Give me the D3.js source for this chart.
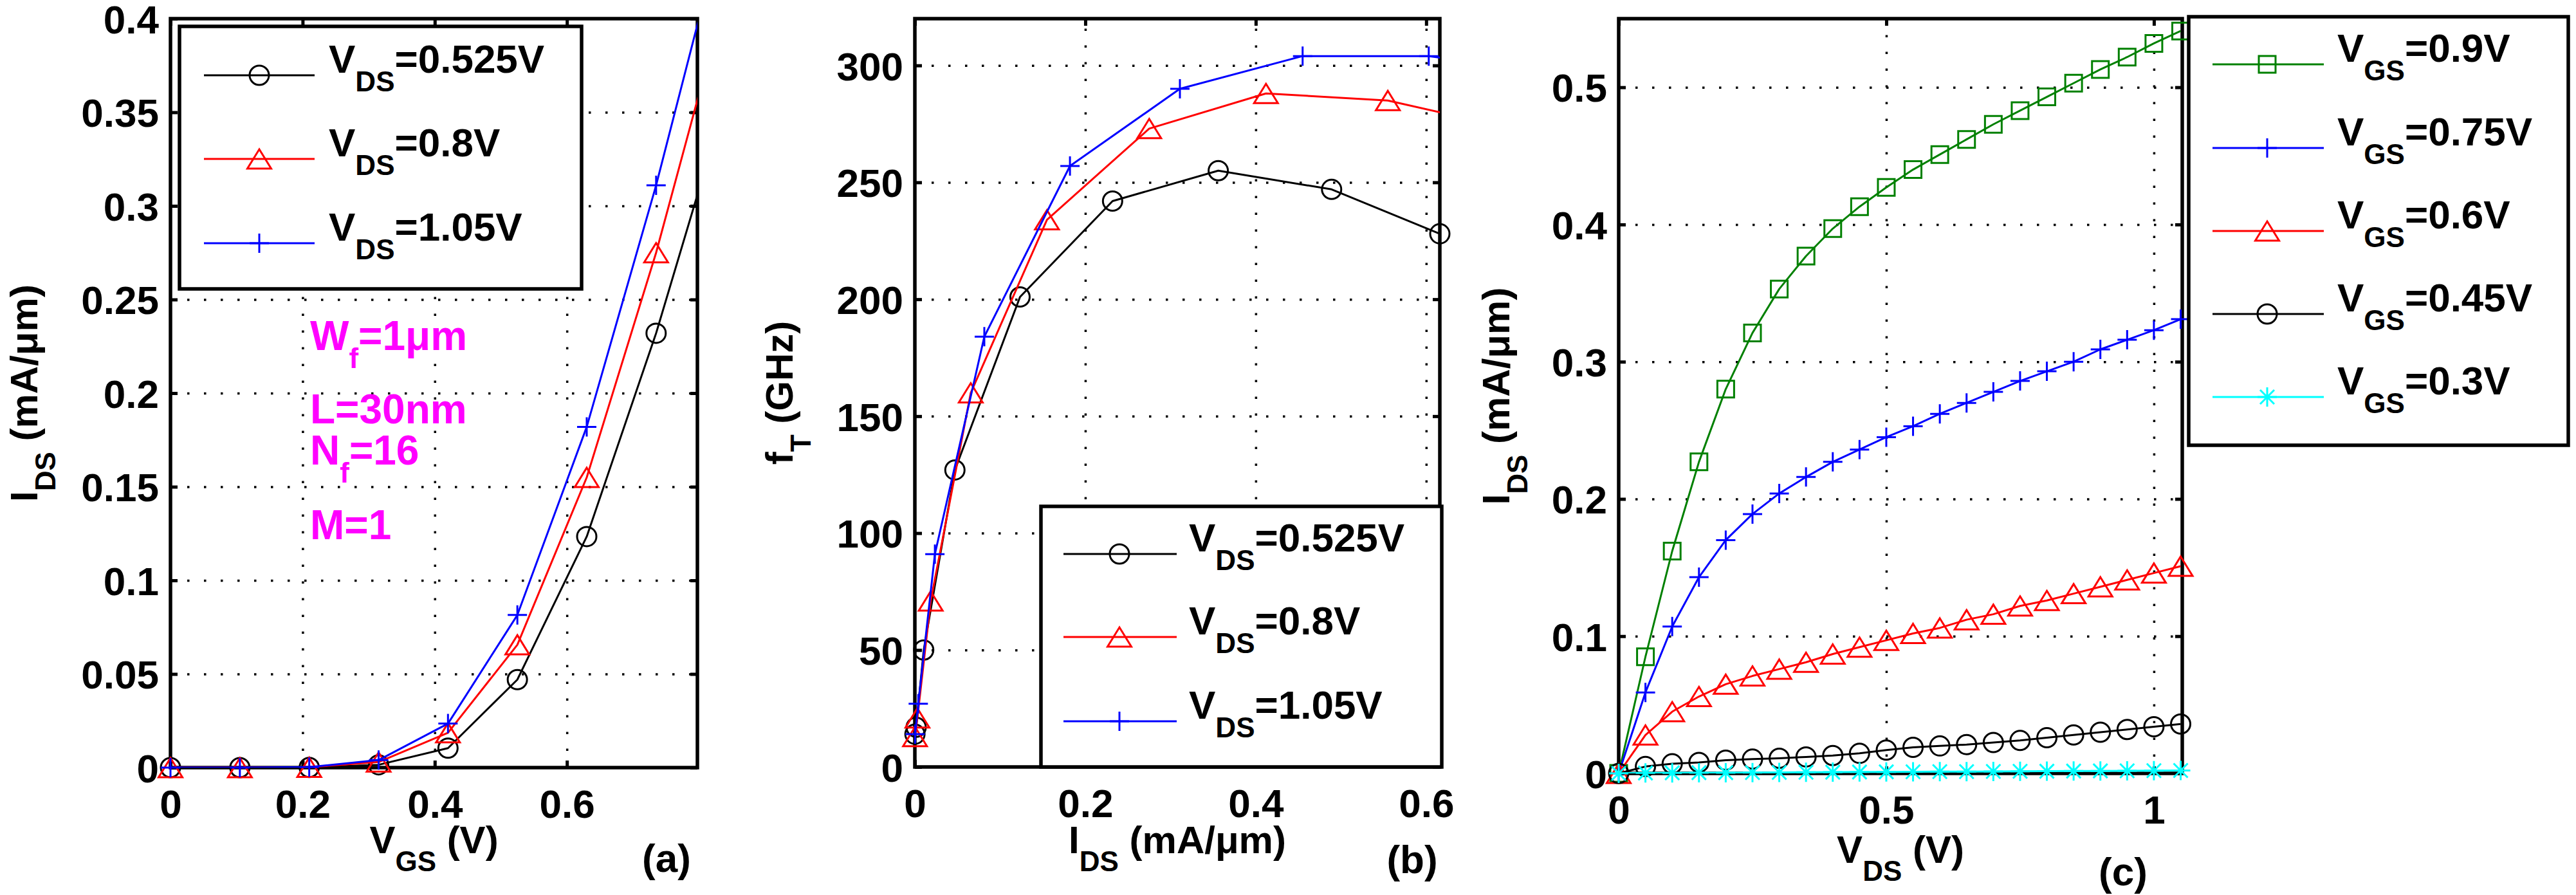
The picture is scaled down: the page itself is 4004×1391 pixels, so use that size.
<!DOCTYPE html>
<html>
<head>
<meta charset="utf-8">
<script src="https://cdn.jsdelivr.net/npm/d3@7"></script>
<style>
  body { margin: 0; background: #fff; }
  text { white-space: pre; }
</style>
</head>
<body>
<svg id="fig"></svg>
<script>
// ---- panel (a): IDS vs VGS ----
const vgsA = [0, 0.105, 0.21, 0.315, 0.42, 0.525, 0.63, 0.735, 0.84]
const idsA_vds0525 = [0, 0, 0.0001, 0.0015, 0.0104, 0.047, 0.1234, 0.232, 0.356]
const idsA_vds08 = [0, 0, 0.0002, 0.003, 0.0186, 0.0656, 0.155, 0.275, 0.412]
const idsA_vds105 = [0, 0, 0.0003, 0.004, 0.0235, 0.0815, 0.182, 0.311, 0.455]
const xTicksA = [0, 0.2, 0.4, 0.6]
const yTicksA = [0, 0.05, 0.1, 0.15, 0.2, 0.25, 0.3, 0.35, 0.4]
const legendA = ["0.525", "0.8", "1.05"]
const notesA = [["W", "f", "=1μm"], ["L=30nm"], ["N", "f", "=16"], ["M=1"]]

// ---- panel (b): fT vs IDS ----
const idsB_vds0525 = [0.0001, 0.0015, 0.0104, 0.047, 0.1234, 0.232, 0.356, 0.489, 0.616]
const ftB_vds0525 = [14, 17, 50, 127, 201, 242, 255, 247, 228]
const idsB_vds08 = [0.0002, 0.003, 0.0186, 0.0656, 0.155, 0.275, 0.412, 0.555, 0.70]
const ftB_vds08 = [13, 21, 71, 160, 234, 273, 288, 285, 273]
const idsB_vds105 = [0.0003, 0.004, 0.0235, 0.0815, 0.182, 0.311, 0.455, 0.603, 0.76]
const ftB_vds105 = [14, 27, 91, 184, 257, 290, 304, 304, 296]
const xTicksB = [0, 0.2, 0.4, 0.6]
const yTicksB = [0, 50, 100, 150, 200, 250, 300]
const legendB = ["0.525", "0.8", "1.05"]

// ---- panel (c): IDS vs VDS ----
const vdsC = [0, 0.05, 0.1, 0.15, 0.2, 0.25, 0.3, 0.35, 0.4, 0.45, 0.5, 0.55,
              0.6, 0.65, 0.7, 0.75, 0.8, 0.85, 0.9, 0.95, 1.0, 1.05]
const idsC_vgs09 = [0, 0.085, 0.162, 0.227, 0.280, 0.321, 0.353, 0.377, 0.397, 0.413, 0.427, 0.440,
                    0.451, 0.462, 0.473, 0.483, 0.493, 0.503, 0.513, 0.522, 0.532, 0.541]
const idsC_vgs075 = [0, 0.059, 0.107, 0.143, 0.170, 0.189, 0.204, 0.216, 0.227, 0.236, 0.245, 0.253,
                     0.262, 0.270, 0.278, 0.286, 0.293, 0.300, 0.309, 0.316, 0.323, 0.331]
const idsC_vgs06 = [0, 0.028, 0.045, 0.056, 0.065, 0.071, 0.076, 0.081, 0.087, 0.092, 0.097, 0.102,
                    0.106, 0.112, 0.116, 0.122, 0.126, 0.131, 0.136, 0.141, 0.146, 0.151]
const idsC_vgs045 = [0, 0.005, 0.007, 0.008, 0.0096, 0.0104, 0.011, 0.012, 0.013, 0.0146, 0.017, 0.019,
                     0.020, 0.021, 0.0225, 0.024, 0.026, 0.028, 0.030, 0.032, 0.034, 0.036]
const idsC_vgs03 = [0, 0.0003, 0.0004, 0.0005, 0.0005, 0.0006, 0.0007, 0.0008, 0.0009, 0.001, 0.0011, 0.0012,
                    0.0013, 0.0013, 0.0014, 0.0015, 0.0016, 0.0017, 0.0018, 0.0019, 0.002, 0.0021]
const xTicksC = [0, 0.5, 1]
const yTicksC = [0, 0.1, 0.2, 0.3, 0.4, 0.5]
const legendC = ["0.9", "0.75", "0.6", "0.45", "0.3"]

const FONT = "'Liberation Sans', Arial, Helvetica, sans-serif"
const W = 4004, H = 1391

const svg = d3.select("#fig").attr("width", W).attr("height", H)
svg.append("rect").attr("width", W).attr("height", H).attr("fill", "#fff")
const defs = svg.append("defs")

// MATLAB-like marker glyphs
const MARK = {
  circle: "M15,0A15,15 0 1,1 -15,0A15,15 0 1,1 15,0Z",
  triangle: "M0,-15L18.5,15L-18.5,15Z",
  square: "M-13,-13H13V13H-13Z",
  plus: "M-15,0H15M0,-15V15",
  star: "M-15,0H15M0,-15V15M-11,-11L11,11M-11,11L11,-11"
}

// text with subscripts: parts are strings, or {sub: "..."}
function richText(parent, parts, o) {
  const t = parent.append("text")
    .attr("font-family", FONT).attr("font-weight", "bold")
    .attr("font-size", o.size).attr("fill", o.color || "#000")
    .attr("text-anchor", o.anchor || "start")
    .attr("transform", o.transform)
  let down = false
  parts.forEach(p => {
    const isSub = typeof p === "object"
    const s = t.append("tspan").text(isSub ? p.sub : p)
    if (isSub) { s.attr("font-size", o.subSize).attr("dy", o.drop); down = true }
    else if (down) { s.attr("dy", -o.drop); down = false }
  })
  return t
}

function drawPanel(p, idx) {
  const x = d3.scaleLinear(p.xDomain, [p.left, p.right])
  const y = d3.scaleLinear(p.yDomain, [p.bottom, p.top])
  const w = p.right - p.left, h = p.bottom - p.top
  const fmt = d3.format("~g")
  const g = svg.append("g")

  // dotted grid
  const inX = p.xTicks.filter(v => x(v) > p.left + 2 && x(v) < p.right - 2)
  const inY = p.yTicks.filter(v => y(v) < p.bottom - 2 && y(v) > p.top + 2)
  const gridStyle = sel => {
    sel.select(".domain").remove()
    sel.selectAll(".tick line").attr("stroke", "#000").attr("stroke-width", 3.5)
      .attr("stroke-dasharray", "3.5 22.5")
  }
  g.append("g").attr("transform", `translate(0,${p.bottom})`)
    .call(d3.axisBottom(x).tickValues(inX).tickSize(-h).tickFormat("")).call(gridStyle)
  g.append("g").attr("transform", `translate(${p.left},0)`)
    .call(d3.axisLeft(y).tickValues(inY).tickSize(-w).tickFormat("")).call(gridStyle)

  // inward ticks on all four sides
  const tickStyle = sel => {
    sel.select(".domain").remove()
    sel.attr("font-size", 62).attr("font-family", FONT).attr("font-weight", "bold")
    sel.selectAll(".tick line").attr("stroke", "#000").attr("stroke-width", 5)
    sel.selectAll(".tick text").attr("fill", "#000")
  }
  g.append("g").attr("transform", `translate(0,${p.bottom})`)
    .call(d3.axisBottom(x).tickValues(p.xTicks).tickSize(-11).tickPadding(34).tickFormat(fmt)).call(tickStyle)
  g.append("g").attr("transform", `translate(0,${p.top})`)
    .call(d3.axisTop(x).tickValues(p.xTicks).tickSize(-11).tickFormat("")).call(tickStyle)
  g.append("g").attr("transform", `translate(${p.left},0)`)
    .call(d3.axisLeft(y).tickValues(p.yTicks).tickSize(-11).tickPadding(18).tickFormat(fmt)).call(tickStyle)
    .selectAll(".tick text").attr("dy", "0.36em")
  g.append("g").attr("transform", `translate(${p.right},0)`)
    .call(d3.axisRight(y).tickValues(p.yTicks).tickSize(-11).tickFormat("")).call(tickStyle)

  g.append("rect").attr("x", p.left).attr("y", p.top).attr("width", w).attr("height", h)
    .attr("fill", "none").attr("stroke", "#000").attr("stroke-width", 5.5)

  // series
  const clipId = "clip" + idx
  defs.append("clipPath").attr("id", clipId).append("rect")
    .attr("x", p.left).attr("y", p.top).attr("width", w).attr("height", h)
  const line = d3.line().x(d => x(d[0])).y(d => y(d[1]))
  p.series.forEach(s => {
    const pts = d3.zip(s.x, s.y)
    g.append("path").datum(pts).attr("clip-path", `url(#${clipId})`)
      .attr("d", line).attr("fill", "none").attr("stroke", s.color)
      .attr("stroke-width", 3).attr("stroke-linejoin", "round")
    g.append("g").selectAll("path")
      .data(pts.filter(d => d[0] <= p.xDomain[1] + 1e-9 && d[1] <= p.yDomain[1] + 1e-9))
      .join("path")
      .attr("transform", d => `translate(${x(d[0])},${y(d[1])})`)
      .attr("d", MARK[s.marker]).attr("fill", "none")
      .attr("stroke", s.color).attr("stroke-width", 3)
  })

  // legend
  const L = p.legend
  const lg = svg.append("g")
  lg.append("rect").attr("x", L.box[0]).attr("y", L.box[1])
    .attr("width", L.box[2] - L.box[0]).attr("height", L.box[3] - L.box[1])
    .attr("fill", "#fff").attr("stroke", "#000").attr("stroke-width", 5.5)
  p.series.forEach((s, i) => {
    const ry = L.rows[i]
    lg.append("line").attr("x1", L.line[0]).attr("x2", L.line[1]).attr("y1", ry).attr("y2", ry)
      .attr("stroke", s.color).attr("stroke-width", 3)
    lg.append("path").attr("transform", `translate(${L.mark},${ry})`).attr("d", MARK[s.marker])
      .attr("fill", "none").attr("stroke", s.color).attr("stroke-width", 3)
    richText(lg, ["V", {sub: L.sub}, "=" + L.labels[i] + "V"],
      {size: 62, subSize: 44, drop: 29, transform: `translate(${L.text},${ry - 4})`})
  })

  // axis labels and panel tag
  richText(svg, p.xLabel, {size: 60, subSize: 44, drop: 28, anchor: "middle",
    transform: `translate(${(p.left + p.right) / 2},${p.xLabelY})`})
  richText(svg, p.yLabel, {size: 60, subSize: 44, drop: 28, anchor: "middle",
    transform: `translate(${p.yLabelX},${(p.top + p.bottom) / 2}) rotate(-90)`})
  richText(svg, [p.tag], {size: 62, anchor: "middle", transform: `translate(${p.tagPos[0]},${p.tagPos[1]})`})
  return g
}

drawPanel({
  left: 265, right: 1084, top: 29, bottom: 1193,
  xDomain: [0, 0.7975], yDomain: [0, 0.4],
  xTicks: xTicksA, yTicks: yTicksA,
  series: [
    {x: vgsA, y: idsA_vds0525, color: "#000", marker: "circle"},
    {x: vgsA, y: idsA_vds08, color: "#f00", marker: "triangle"},
    {x: vgsA, y: idsA_vds105, color: "#00f", marker: "plus"}
  ],
  legend: {box: [279, 41, 904, 449], line: [317, 489], mark: 403, text: 511,
           rows: [117, 247, 378], sub: "DS", labels: legendA},
  xLabel: ["V", {sub: "GS"}, " (V)"], xLabelY: 1326,
  yLabel: ["I", {sub: "DS"}, " (mA/μm)"], yLabelX: 58,
  tag: "(a)", tagPos: [1036, 1355]
}, 0)

drawPanel({
  left: 1422, right: 2238, top: 29, bottom: 1192,
  xDomain: [0, 0.616], yDomain: [0, 320],
  xTicks: xTicksB, yTicks: yTicksB,
  series: [
    {x: idsB_vds0525, y: ftB_vds0525, color: "#000", marker: "circle"},
    {x: idsB_vds08, y: ftB_vds08, color: "#f00", marker: "triangle"},
    {x: idsB_vds105, y: ftB_vds105, color: "#00f", marker: "plus"}
  ],
  legend: {box: [1618, 787, 2241, 1192], line: [1653, 1829], mark: 1740, text: 1848,
           rows: [861, 990, 1121], sub: "DS", labels: legendB},
  xLabel: ["I", {sub: "DS"}, " (mA/μm)"], xLabelY: 1326,
  yLabel: ["f", {sub: "T"}, " (GHz)"], yLabelX: 1232,
  tag: "(b)", tagPos: [2195, 1357]
}, 1)

drawPanel({
  left: 2516, right: 3392, top: 29, bottom: 1202,
  xDomain: [0, 1.053], yDomain: [0, 0.55],
  xTicks: xTicksC, yTicks: yTicksC,
  series: [
    {x: vdsC, y: idsC_vgs09, color: "#008000", marker: "square"},
    {x: vdsC, y: idsC_vgs075, color: "#00f", marker: "plus"},
    {x: vdsC, y: idsC_vgs06, color: "#f00", marker: "triangle"},
    {x: vdsC, y: idsC_vgs045, color: "#000", marker: "circle"},
    {x: vdsC, y: idsC_vgs03, color: "#00ffff", marker: "star"}
  ],
  legend: {box: [3402, 26, 3992, 692], line: [3439, 3612], mark: 3524, text: 3633,
           rows: [100, 230, 359, 488, 617], sub: "GS", labels: legendC},
  xLabel: ["V", {sub: "DS"}, " (V)"], xLabelY: 1341,
  yLabel: ["I", {sub: "DS"}, " (mA/μm)"], yLabelX: 2346,
  tag: "(c)", tagPos: [3300, 1376]
}, 2)

// device annotations in panel (a)
const notesY = [544, 658, 722, 838]
notesA.forEach((n, i) => {
  const parts = n.length === 3 ? [n[0], {sub: n[1]}, n[2]] : [n[0]]
  richText(svg, parts, {size: 64, subSize: 44, drop: 28, color: "#ff00ff",
    transform: `translate(482,${notesY[i]})`})
})
</script>
</body>
</html>
